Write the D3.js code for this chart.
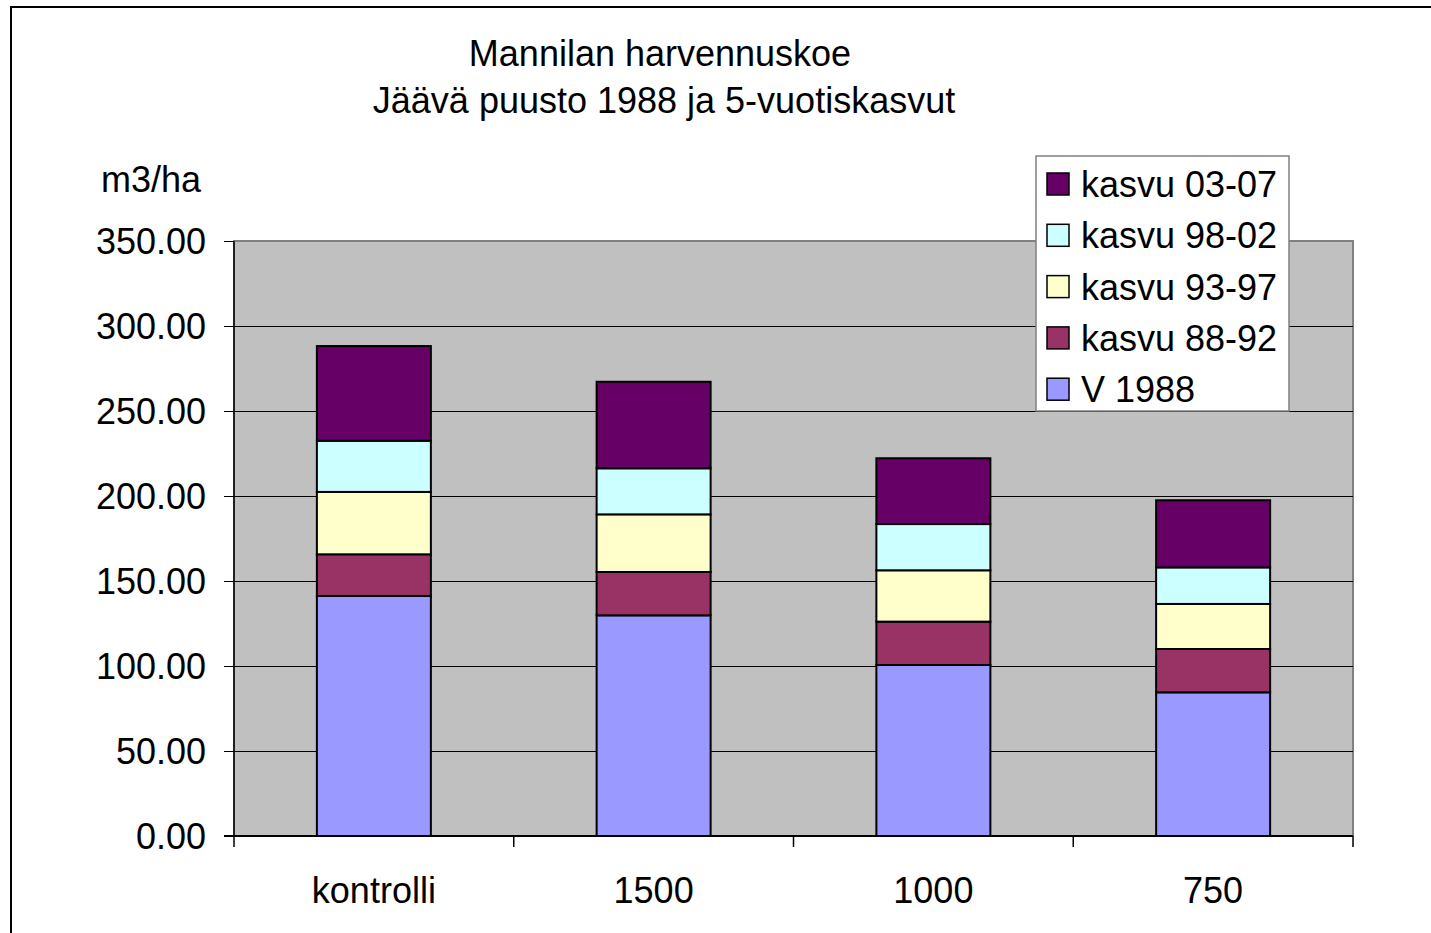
<!DOCTYPE html>
<html>
<head>
<meta charset="utf-8">
<script src="https://cdn.jsdelivr.net/npm/d3@7"></script>
<style>
  body { margin: 0; background: #fff; }
  text { font-family: "Liberation Sans", Arial, sans-serif; fill: #000; }
</style>
</head>
<body>
<div id="chart"></div>
<script>
// categories and stacked series (m3/ha)
var categories = ["kontrolli", "1500", "1000", "750"];
var v1988 = [141.2, 129.8, 100.6, 84.5];
var kasvu8892 = [24.5, 25.5, 25.5, 25.5];
var kasvu9397 = [36.7, 33.9, 30.2, 26.5];
var kasvu9802 = [30.1, 27.1, 27.2, 21.5];
var kasvu0307 = [55.7, 50.9, 38.7, 39.5];
var seriesNames = ["V 1988", "kasvu 88-92", "kasvu 93-97", "kasvu 98-02", "kasvu 03-07"];
var seriesColors = ["#9999ff", "#993366", "#ffffcc", "#ccffff", "#660066"];
var yTicks = [0, 50, 100, 150, 200, 250, 300, 350];

var width = 1431, height = 933;
var fontSize = "36px";
var svg = d3.select("#chart").append("svg")
    .attr("width", width)
    .attr("height", height);

// outer chart frame (runs off the picture on right and bottom)
svg.append("rect")
    .attr("x", 11).attr("y", 7)
    .attr("width", 1440).attr("height", 950)
    .attr("fill", "#fff").attr("stroke", "#000").attr("stroke-width", 2);

var plot = {left: 234, right: 1353, top: 241, bottom: 836};

var x = d3.scaleBand()
    .domain(categories)
    .range([plot.left, plot.right])
    .paddingInner(0.5925)
    .paddingOuter(0.29625);

var y = d3.scaleLinear()
    .domain([0, 350])
    .range([plot.bottom, plot.top]);

// plot area
svg.append("rect")
    .attr("x", plot.left).attr("y", plot.top)
    .attr("width", plot.right - plot.left).attr("height", plot.bottom - plot.top)
    .attr("fill", "#c0c0c0").attr("stroke", "#808080").attr("stroke-width", 2);

// gridlines
svg.append("g").selectAll("line")
    .data(yTicks.filter(d => d > 0 && d < 350))
    .join("line")
    .attr("x1", plot.left).attr("x2", plot.right)
    .attr("y1", d => Math.round(y(d)) + 0.5).attr("y2", d => Math.round(y(d)) + 0.5)
    .attr("stroke", "#000").attr("stroke-width", 1);

// stacked bars
var table = categories.map((c, i) => ({
    cat: c,
    "V 1988": v1988[i],
    "kasvu 88-92": kasvu8892[i],
    "kasvu 93-97": kasvu9397[i],
    "kasvu 98-02": kasvu9802[i],
    "kasvu 03-07": kasvu0307[i]
}));
var stacked = d3.stack().keys(seriesNames)(table);

svg.append("g").selectAll("g")
    .data(stacked)
    .join("g")
    .attr("fill", (d, i) => seriesColors[i])
    .selectAll("rect")
    .data(d => d)
    .join("rect")
    .attr("x", d => x(d.data.cat))
    .attr("width", x.bandwidth())
    .attr("y", d => y(d[1]))
    .attr("height", d => y(d[0]) - y(d[1]))
    .attr("stroke", "#000")
    .attr("stroke-width", 2);

// y axis
var yAxis = svg.append("g")
    .attr("transform", "translate(" + plot.left + ",0)")
    .call(d3.axisLeft(y).tickValues(yTicks).tickFormat(d3.format(".2f")).tickSize(10).tickPadding(18));
yAxis.select(".domain").attr("stroke", "#000").attr("stroke-width", 1.5).attr("d", "M0," + plot.top + "V" + plot.bottom);
yAxis.selectAll("text").style("font-size", fontSize).attr("font-family", null).attr("dy", "0.36em");

// x axis with ticks between categories
var xAxis = svg.append("g")
    .attr("transform", "translate(0," + plot.bottom + ")");
xAxis.append("line")
    .attr("x1", plot.left - 10).attr("x2", plot.right)
    .attr("y1", 0).attr("y2", 0)
    .attr("stroke", "#000").attr("stroke-width", 2);
var step = x.step();
xAxis.selectAll(".tk")
    .data(d3.range(categories.length + 1))
    .join("line")
    .attr("class", "tk")
    .attr("x1", d => plot.left + d * step).attr("x2", d => plot.left + d * step)
    .attr("y1", 0).attr("y2", 11)
    .attr("stroke", "#000").attr("stroke-width", 1.5);
xAxis.selectAll(".lbl")
    .data(categories)
    .join("text")
    .attr("class", "lbl")
    .attr("x", d => x(d) + x.bandwidth() / 2)
    .attr("y", 67)
    .attr("text-anchor", "middle")
    .style("font-size", fontSize)
    .text(d => d);

// titles
svg.append("text")
    .attr("x", 660).attr("y", 66)
    .attr("text-anchor", "middle")
    .style("font-size", fontSize)
    .text("Mannilan harvennuskoe");
svg.append("text")
    .attr("x", 664).attr("y", 113)
    .attr("text-anchor", "middle")
    .style("font-size", fontSize)
    .text("Jäävä puusto 1988 ja 5-vuotiskasvut");
svg.append("text")
    .attr("x", 151).attr("y", 192)
    .attr("text-anchor", "middle")
    .style("font-size", fontSize)
    .text("m3/ha");

// legend, top entry is the top of the stack
var legend = svg.append("g").attr("transform", "translate(1036,156)");
legend.append("rect")
    .attr("x", 0).attr("y", 0)
    .attr("width", 253).attr("height", 255)
    .attr("fill", "#fff").attr("stroke", "#808080").attr("stroke-width", 1.5);
var legendItems = seriesNames.map((n, i) => ({name: n, color: seriesColors[i]})).reverse();
var row = legend.selectAll(".row")
    .data(legendItems)
    .join("g")
    .attr("class", "row")
    .attr("transform", (d, i) => "translate(0," + (28 + i * 51.3) + ")");
row.append("rect")
    .attr("x", 11).attr("y", -11)
    .attr("width", 22).attr("height", 22)
    .attr("fill", d => d.color)
    .attr("stroke", "#000").attr("stroke-width", 1.5);
row.append("text")
    .attr("x", 45).attr("y", 0)
    .attr("dy", "0.36em")
    .style("font-size", fontSize)
    .text(d => d.name);
</script>
</body>
</html>
